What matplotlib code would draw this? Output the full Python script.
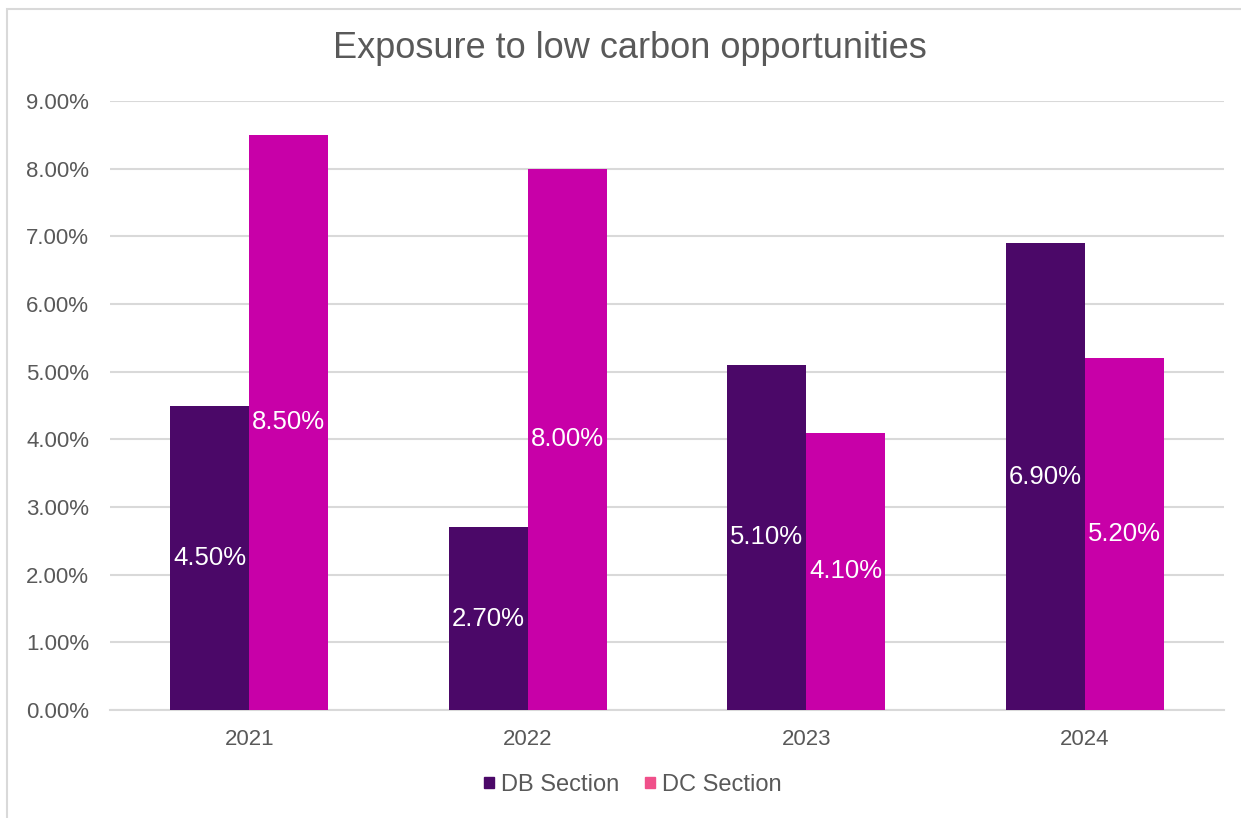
import numpy as np
import matplotlib.pyplot as plt
from matplotlib.patches import Rectangle, Patch
from matplotlib.ticker import FuncFormatter

plt.rcParams['font.family'] = ['Liberation Sans', 'DejaVu Sans']

# Data
years = ['2021', '2022', '2023', '2024']
db_section = [4.5, 2.7, 5.1, 6.9]
dc_section = [8.5, 8.0, 4.1, 5.2]

db_color = '#4B0868'
dc_color = '#C800A8'
dc_legend_color = '#F0508A'
text_grey = '#595959'

fig = plt.figure(figsize=(12.41, 8.18), dpi=100)
ax = fig.add_axes([110/1241, 1 - 710/818, (1224 - 110)/1241, (710 - 101)/818])

# outer chart border (cut off on right and bottom)
fig.patches.append(Rectangle((7/1241, -0.1), 1.2, 1 - 9/818 + 0.1, transform=fig.transFigure,
                             fill=False, edgecolor='#D9D9D9', linewidth=1.5))

x = np.arange(len(years))
w = 0.284
b1 = ax.bar(x - w/2, db_section, w, color=db_color, zorder=3)
b2 = ax.bar(x + w/2, dc_section, w, color=dc_color, zorder=3)

for bars, vals in ((b1, db_section), (b2, dc_section)):
    for bar, v in zip(bars, vals):
        ax.text(bar.get_x() + bar.get_width()/2, v/2, f'{v:.2f}%',
                ha='center', va='center', color='white', fontsize=18.5, zorder=4)

ax.set_xlim(-0.5, len(years) - 0.5)
ax.set_ylim(0, 9)
ax.set_yticks(np.arange(0, 9.5, 1))
ax.yaxis.set_major_formatter(FuncFormatter(lambda v, p: f'{v:.2f}%'))
ax.set_xticks(x)
ax.set_xticklabels(years)
ax.tick_params(length=0, labelsize=16, colors=text_grey)
ax.tick_params(axis='y', pad=15)
ax.tick_params(axis='x', pad=14)
ax.grid(axis='y', color='#D9D9D9', linewidth=1.5, zorder=0)
for s in ('top', 'right', 'left'):
    ax.spines[s].set_visible(False)
ax.spines['bottom'].set_color('#D9D9D9')
ax.spines['bottom'].set_linewidth(1.5)

fig.text(630/1241, 1 - 48/818, 'Exposure to low carbon opportunities', ha='center', va='center',
         fontsize=26, color=text_grey)

handles = [Patch(color=db_color, label='DB Section'), Patch(color=dc_legend_color, label='DC Section')]
fig.legend(handles=handles, loc='center', bbox_to_anchor=(633/1241, 1 - 785/818), ncol=2,
           frameon=False, fontsize=17, labelcolor=text_grey, handlelength=0.42, handleheight=0.3,
           handletextpad=0.3, columnspacing=1.1)

fig.savefig('out.png', dpi=100)
